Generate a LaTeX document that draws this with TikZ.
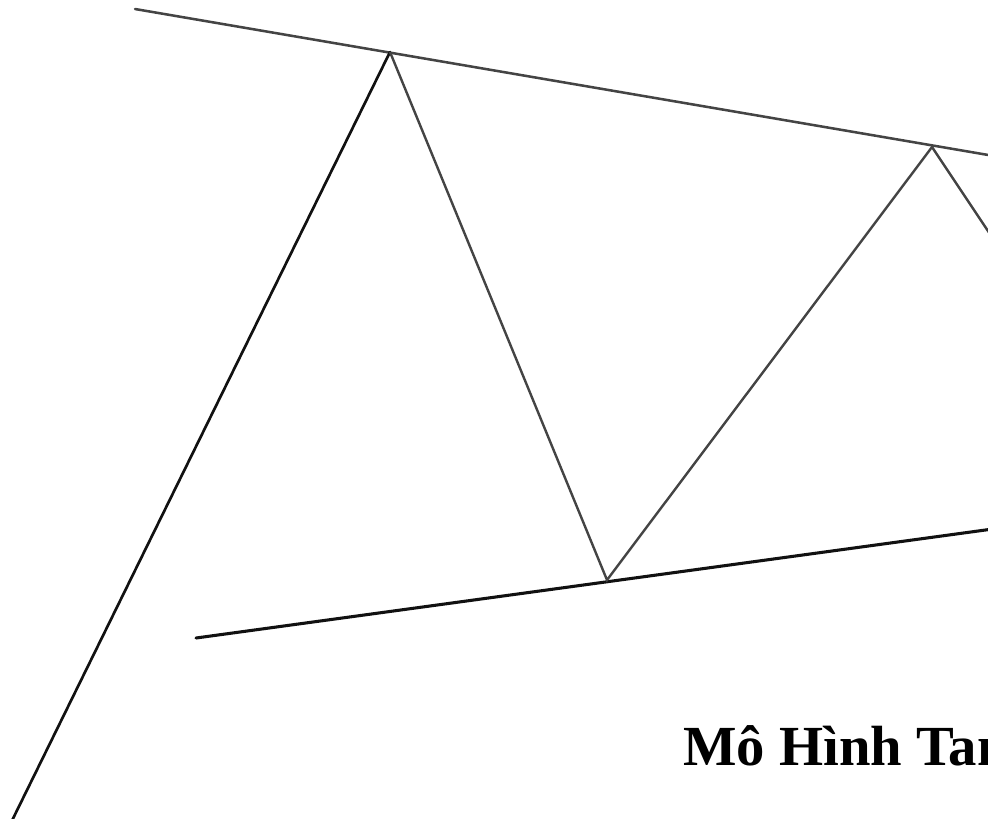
\documentclass[tikz,border=0pt]{standalone}
\usepackage{fontspec}
\setmainfont{Liberation Serif}
\usetikzlibrary{positioning,calc}
\definecolor{figDark}{HTML}{111111}
\definecolor{figGrey}{HTML}{444444}
\begin{document}
\begin{tikzpicture}[
  x=0.75pt,y=-0.75pt,
  trend/.style={draw=figDark,line width=2pt,line cap=round},
  swing/.style={draw=figGrey,line width=1.8pt,line join=miter},
  bound/.style={draw=figGrey,line width=1.9pt,line cap=round},
  caption/.style={font=\bfseries\fontsize{42.5}{46}\selectfont,anchor=base west,inner sep=0pt}
]
\clip (0,0) rectangle (988,818);
\useasboundingbox (0,0) rectangle (988,818);

% pivot points of the pattern
\coordinate (start) at (0,845);
\coordinate (pk1)   at (390,52);
\coordinate (tr1)   at (607,580);
\coordinate (pk2)   at (932,147);
\coordinate (tr2)   at (1010,264);

% upper and lower trend lines
\coordinate (upL) at (135,9);
\coordinate (upR) at (1000,157);
\coordinate (loL) at (196,638);
\coordinate (loR) at (1000,528);

\draw[bound] (upL) -- (upR);
\draw[trend,line width=2.3pt] (loL) -- (loR);
\draw[trend] (start) -- (pk1);
\draw[swing] (pk1) -- (tr1) -- (pk2) -- (tr2);

\node[caption] (title) at (683,765) {Mô Hình Tam};
\end{tikzpicture}
\end{document}
